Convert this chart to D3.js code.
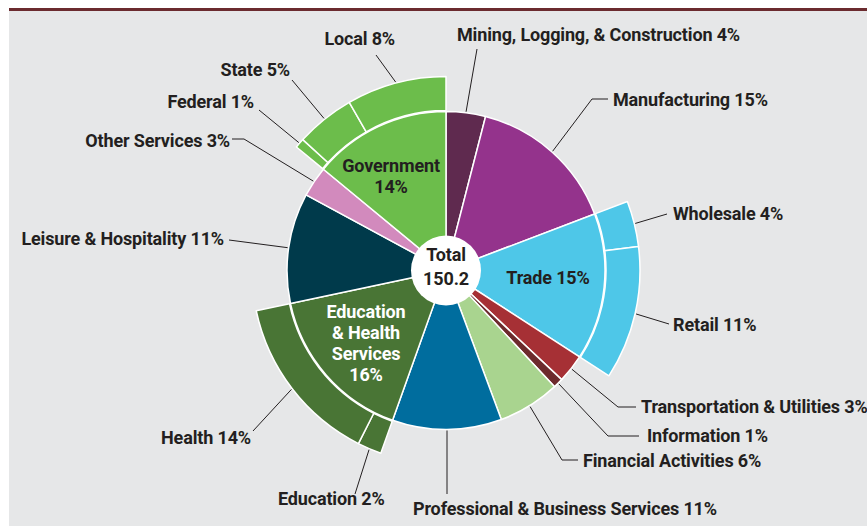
<!DOCTYPE html>
<html lang="en">
<head>
<meta charset="UTF-8">
<title>Employment by Industry</title>
<script src="https://d3js.org/d3.v7.min.js"></script>
<style>
  body { margin: 0; background: #fff; }
  text { font-family: Roboto, "Noto Sans", sans-serif; font-weight: 700; fill: #231f20; }
  .lbl { font-size: 18px; letter-spacing: -0.15px; }
</style>
</head>
<body>
<script>
// inner ring: industry sectors, share of total nonfarm jobs (%), clockwise from 12 o'clock
const sectors = ["Mining, Logging, & Construction", "Manufacturing", "Trade",
  "Transportation & Utilities", "Information", "Financial Activities",
  "Professional & Business Services", "Education & Health Services",
  "Leisure & Hospitality", "Other Services", "Government"];
const sectorShares = [4.0, 15.2, 14.9, 2.9, 1.0, 6.3, 11.1, 16.2, 11.2, 3.1, 14.0];
const sectorColors = ["#5f2a4f", "#94338c", "#4ec7e8", "#a63035", "#6d2a2d", "#a9d48f",
  "#006d9e", "#497535", "#003a4b", "#d28abd", "#6cbd4b"];
const sectorLabels = ["Mining, Logging, & Construction 4%", "Manufacturing 15%", "Trade 15%",
  "Transportation & Utilities 3%", "Information 1%", "Financial Activities 6%",
  "Professional & Business Services 11%", "Education & Health Services 16%",
  "Leisure & Hospitality 11%", "Other Services 3%", "Government 14%"];

// outer ring: breakdown of three sectors
const subParents = ["Trade", "Trade", "Education & Health Services", "Education & Health Services",
  "Government", "Government", "Government"];
const subNames = ["Wholesale", "Retail", "Education", "Health", "Federal", "State", "Local"];
const subShares = [3.8, 11.1, 2.0, 14.2, 0.8, 4.9, 8.3];
const subLabels = ["Wholesale 4%", "Retail 11%", "Education 2%", "Health 14%",
  "Federal 1%", "State 5%", "Local 8%"];

const totalJobs = "150.2";

const width = 867, height = 526;
const cx = 446, cy = 270.5;
const R1 = 159, R2 = 194, rHole = 35;

const svg = d3.select("body").append("svg")
  .attr("width", width)
  .attr("height", height);

// panel
svg.append("rect").attr("x", 9).attr("y", 11).attr("width", width - 9).attr("height", height - 11)
  .attr("fill", "#e6e7e8");
svg.append("rect").attr("x", 9).attr("y", 8).attr("width", width - 9).attr("height", 3)
  .attr("fill", "#6b2b2f");

const g = svg.append("g").attr("transform", `translate(${cx},${cy})`);

const sectorData = sectors.map((name, i) => ({ name, share: sectorShares[i], color: sectorColors[i], label: sectorLabels[i] }));
const pie = d3.pie().sort(null).value(d => d.share);
const arcsIn = pie(sectorData);

const innerArc = d3.arc().innerRadius(0).outerRadius(R1);
const outerArc = d3.arc().innerRadius(R1 + 1).outerRadius(R2);

g.append("g").selectAll("path")
  .data(arcsIn)
  .join("path")
  .attr("d", innerArc)
  .attr("fill", d => d.data.color)
  .attr("stroke", "#fff")
  .attr("stroke-width", 1.5)
  .attr("stroke-linejoin", "round");

// outer sub-arcs share their parent's angle span
const arcsOut = [];
arcsIn.forEach(p => {
  const kids = subNames.map((n, i) => ({ name: n, share: subShares[i], parent: subParents[i], label: subLabels[i], color: p.data.color }))
    .filter(k => k.parent === p.data.name);
  if (!kids.length) return;
  d3.pie().sort(null).value(d => d.share)
    .startAngle(p.startAngle).endAngle(p.endAngle)(kids)
    .forEach(a => arcsOut.push(a));
});

g.append("g").selectAll("path")
  .data(arcsOut)
  .join("path")
  .attr("d", outerArc)
  .attr("fill", d => d.data.color)
  .attr("stroke", "#fff")
  .attr("stroke-width", 1.5)
  .attr("stroke-linejoin", "round");

// centre
g.append("circle").attr("r", rHole).attr("fill", "#fff");
g.append("text").attr("text-anchor", "middle").attr("y", -9.5).attr("class", "lbl").text("Total");
g.append("text").attr("text-anchor", "middle").attr("y", 14.5).attr("class", "lbl").text(totalJobs);

// labels inside the pie
const insideText = [
  { name: "Trade", lines: ["Trade 15%"], dx: 102, dy: 13.5, fill: "#231f20" },
  { name: "Government", lines: ["Government", "14%"], dx: -55, dy: 1.5 - 100, fill: "#231f20" },
  { name: "Education & Health Services", lines: ["Education", "& Health", "Services", "16%"], dx: -80, dy: 47.5, fill: "#fff" }
];
insideText.forEach(t => {
  const txt = g.append("text").attr("text-anchor", "middle").attr("class", "lbl")
    .style("fill", t.fill);
  t.lines.forEach((l, i) => txt.append("tspan").attr("x", t.dx).attr("y", t.dy + i * 21).text(l));
});

// callouts: where the text sits and how the leader bends
const polar = (a, r) => [cx + r * Math.sin(a), cy - r * Math.cos(a)];
const mid = d => (d.startAngle + d.endAngle) / 2;

const callouts = [
  { arc: arcsIn[0], x: 457, y: 41, anchor: "start", r: R1 + 1, pts: [[477, 49]] },
  { arc: arcsIn[1], x: 613, y: 106, anchor: "start", r: R1 + 1, pts: [[592, 99], [608, 99]] },
  { arc: arcsIn[3], x: 641, y: 413, anchor: "start", r: R1 + 1, pts: [[618, 407], [636, 407]] },
  { arc: arcsIn[4], x: 647, y: 442, anchor: "start", r: R1 + 1, pts: [[608, 436], [639, 436]] },
  { arc: arcsIn[5], x: 583, y: 467, anchor: "start", r: R1 + 1, pts: [[562, 460], [578, 460]] },
  { arc: arcsIn[6], x: 413, y: 515, anchor: "start", r: R1 + 1, pts: [[447, 494]] },
  { arc: arcsIn[8], x: 224, y: 245, anchor: "end", r: R1 + 1, pts: [[229, 240]] },
  { arc: arcsIn[9], x: 230, y: 147, anchor: "end", r: R1 + 1, pts: [[244, 139], [232, 139]] },
  { arc: arcsOut[0], x: 673, y: 220, anchor: "start", r: R2 + 1, pts: [[667, 214]] },
  { arc: arcsOut[1], x: 673, y: 331, anchor: "start", r: R2 + 1, pts: [[669, 324]] },
  { arc: arcsOut[2], x: 278, y: 505, anchor: "start", r: R2 + 1, pts: [[355, 494]] },
  { arc: arcsOut[3], x: 251, y: 444, anchor: "end", r: R2 + 1, pts: [[253, 431]] },
  { arc: arcsOut[4], x: 254, y: 108, anchor: "end", r: R2 + 1, pts: [[259, 110]] },
  { arc: arcsOut[5], x: 290, y: 76, anchor: "end", r: R2 + 1, pts: [[292, 80]] },
  { arc: arcsOut[6], x: 395, y: 45, anchor: "end", r: R2 + 1, pts: [[376, 55]] }
];

const line = d3.line();
svg.append("g").selectAll("path")
  .data(callouts)
  .join("path")
  .attr("d", d => line([polar(mid(d.arc), d.r), ...d.pts]))
  .attr("fill", "none")
  .attr("stroke", "#231f20")
  .attr("stroke-width", 1);

svg.append("g").selectAll("text")
  .data(callouts)
  .join("text")
  .attr("class", "lbl")
  .attr("x", d => d.x)
  .attr("y", d => d.y)
  .attr("text-anchor", d => d.anchor)
  .text(d => d.arc.data.label);
</script>
</body>
</html>
